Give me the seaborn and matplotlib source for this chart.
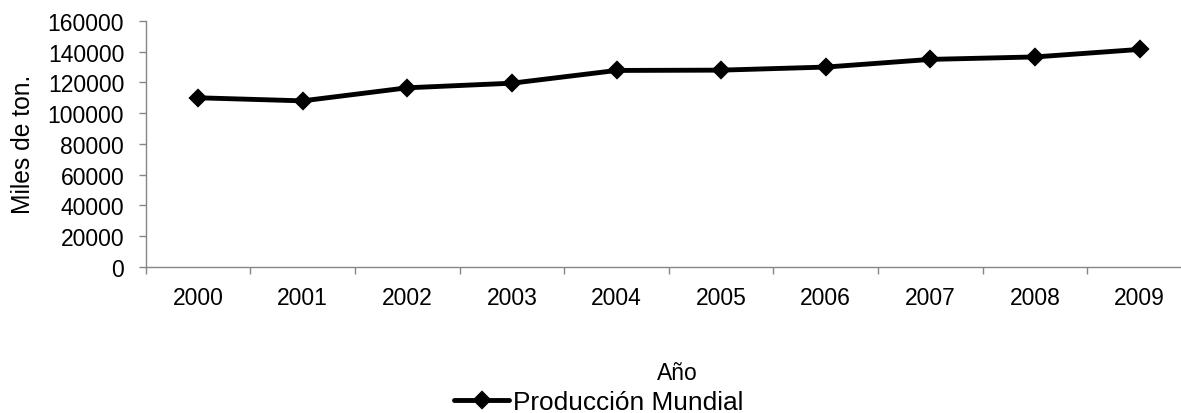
import numpy as np
import pandas as pd
import matplotlib
matplotlib.use("Agg")
import matplotlib.pyplot as plt
import seaborn as sns
from matplotlib.ticker import FixedLocator, StrMethodFormatter

# World production by year (thousand tonnes)
years = ["2000", "2001", "2002", "2003", "2004", "2005", "2006", "2007", "2008", "2009"]
produccion = [110000, 108000, 116500, 119500, 127800, 128000, 130000, 135000, 136600, 141500]
y_ticks = [0, 20000, 40000, 60000, 80000, 100000, 120000, 140000, 160000]

sns.set_theme(style="white")
plt.rcParams["font.family"] = ["Liberation Sans", "DejaVu Sans"]

df = pd.DataFrame({"Año": years, "Producción": produccion})

W, H = 1181, 414
fig = plt.figure(figsize=(W / 100, H / 100), dpi=100)
ax_left, ax_right, ax_bottom, ax_top = 145.7, 1192.0, 146.3, 392.0
ax = fig.add_axes([ax_left / W, ax_bottom / H, (ax_right - ax_left) / W, (ax_top - ax_bottom) / H])

sns.pointplot(data=df, x="Año", y="Producción", color="black", markers="D",
              markersize=7.5, linewidth=3.5, label="Producción Mundial", ax=ax)

n = len(years)
ax.set_xlim(-0.5, n - 0.5)
ax.set_ylim(y_ticks[0], y_ticks[-1])

gray = "#868686"
for side in ("top", "right"):
    ax.spines[side].set_visible(False)
for side in ("left", "bottom"):
    ax.spines[side].set_color(gray)
    ax.spines[side].set_linewidth(1.0)

# category labels at centres, tick marks between categories
ax.xaxis.set_major_locator(FixedLocator(np.arange(n)))
ax.set_xticklabels(years)
ax.xaxis.set_minor_locator(FixedLocator(np.arange(n + 1) - 0.5))
ax.tick_params(axis="x", which="major", length=0, pad=14, labelsize=16.5, labelcolor="black")
ax.tick_params(axis="x", which="minor", bottom=True, length=5, width=1.0, color=gray, direction="out")

ax.set_yticks(y_ticks)
ax.yaxis.set_major_formatter(StrMethodFormatter("{x:.0f}"))
ax.tick_params(axis="y", which="major", left=True, length=5, width=1.0, color=gray,
               direction="out", pad=10.5, labelsize=16.5, labelcolor="black")

ax.set_ylabel("Miles de ton.", fontsize=17.7, color="black", va="center")
ax.yaxis.set_label_coords((23 - ax_left) / (ax_right - ax_left), 0.5)
ax.set_xlabel("Año", fontsize=16.5, color="black", va="center")
ax.xaxis.set_label_coords((677.5 - ax_left) / (ax_right - ax_left), (41 - ax_bottom) / (ax_top - ax_bottom))

leg = ax.legend(loc="center", bbox_to_anchor=(599 / W, 11 / H), bbox_transform=fig.transFigure,
                frameon=False, fontsize=18.9, handlelength=2.1, handletextpad=0.15, borderpad=0)
for t in leg.get_texts():
    t.set_color("black")

fig.savefig("out.png", dpi=100)
